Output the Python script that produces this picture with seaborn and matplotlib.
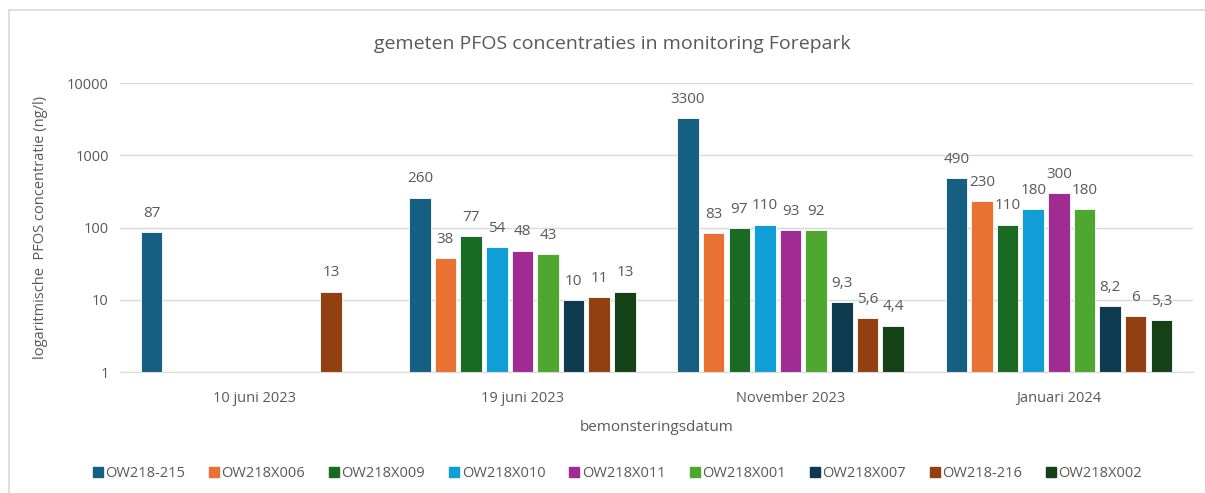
import numpy as np
import pandas as pd
from matplotlib import pyplot as plt
from matplotlib.lines import Line2D
import seaborn as sns

dates = ["10 juni 2023", "19 juni 2023", "November 2023", "Januari 2024"]
wells = ["OW218-215", "OW218X006", "OW218X009", "OW218X010", "OW218X011",
         "OW218X001", "OW218X007", "OW218-216", "OW218X002"]
colors = ["#156082", "#E97132", "#196B24", "#0F9ED5", "#A02B93",
          "#4EA72E", "#0E3A50", "#923F12", "#144116"]

# one list per date, NaN = not measured
juni10 = [87, np.nan, np.nan, np.nan, np.nan, np.nan, np.nan, 13, np.nan]
juni19 = [260, 38, 77, 54, 48, 43, 10, 11, 13]
nov23 = [3300, 83, 97, 110, 93, 92, 9.3, 5.6, 4.4]
jan24 = [490, 230, 110, 180, 300, 180, 8.2, 6, 5.3]

rows = []
for d, vals in zip(dates, [juni10, juni19, nov23, jan24]):
    for w, v in zip(wells, vals):
        if not np.isnan(v):
            rows.append({"datum": d, "put": w, "pfos": v})
df = pd.DataFrame(rows)

grey = "#595959"
plt.rcParams['font.family'] = ['Open Sans', 'DejaVu Sans']

fig = plt.figure(figsize=(12.05, 4.93), dpi=100)
ax = fig.add_axes([0.0996, 0.2454, 0.8904, 0.5862])

sns.barplot(data=df, x="datum", y="pfos", hue="put", order=dates, hue_order=wells,
            palette=colors, saturation=1, width=0.86, gap=0.16, ax=ax, legend=False,
            edgecolor="white", linewidth=0.6)
ax.set_yscale("log")
ax.set_ylim(1, 10000)
ax.set_yticks([1, 10, 100, 1000, 10000])
ax.set_yticklabels(["1", "10", "100", "1000", "10000"])
ax.minorticks_off()

for cont in ax.containers:
    labels = []
    for bar in cont:
        h = bar.get_height()
        if np.isnan(h):
            labels.append("")
        else:
            labels.append(f"{h:g}".replace(".", ","))
    ax.bar_label(cont, labels=labels, padding=8, fontsize=11, color=grey)

ax.grid(axis="y", color="#D9D9D9", linewidth=1)
ax.set_axisbelow(True)
for s in ["top", "right", "left"]:
    ax.spines[s].set_visible(False)
ax.spines["bottom"].set_color("#D9D9D9")
ax.tick_params(length=0, colors=grey, labelsize=10.5, pad=8)
ax.tick_params(axis="x", pad=14)

ax.set_xlabel("bemonsteringsdatum", color=grey, fontsize=11, labelpad=10)
ax.set_ylabel("logaritmische  PFOS concentratie (ng/l)", color=grey, fontsize=10.5, labelpad=14)
fig.text(0.508, 0.91, "gemeten PFOS concentraties in monitoring Forepark",
         ha="center", va="center", fontsize=14, color=grey)

handles = [Line2D([], [], marker="s", linestyle="", markersize=7, color=c) for c in colors]
fig.legend(handles, wells, loc="center", bbox_to_anchor=(0.512, 0.04), ncol=9,
           frameon=False, fontsize=10.5, labelcolor=grey, handletextpad=0.1,
           columnspacing=1.6, handlelength=0.8)

# outer chart border
fig.add_artist(Line2D([9 / 1205, 9 / 1205], [0, 1 - 10 / 493], color="#D9D9D9", lw=1.2, transform=fig.transFigure))
fig.add_artist(Line2D([9 / 1205, 1], [1 - 10 / 493, 1 - 10 / 493], color="#D9D9D9", lw=1.2, transform=fig.transFigure))

fig.savefig("out.png", dpi=100)
